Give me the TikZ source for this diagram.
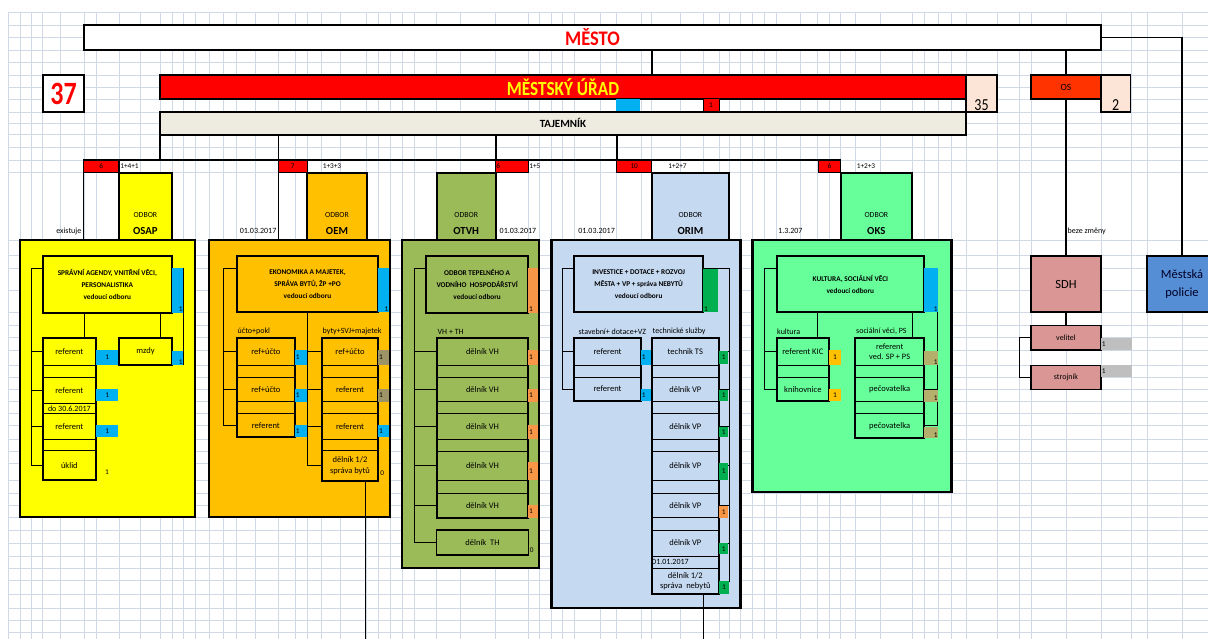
\documentclass[tikz,border=0pt]{standalone}
\usepackage{fontspec}
\setmainfont{Carlito}
\usetikzlibrary{calc}
\definecolor{yel}{HTML}{FFFF00}
\definecolor{orn}{HTML}{FFC000}
\definecolor{olv}{HTML}{9BBB59}
\definecolor{lbl}{HTML}{C5D9F1}
\definecolor{grn}{HTML}{66FF99}
\definecolor{bluebar}{HTML}{00B0F0}
\definecolor{orbar}{HTML}{F79646}
\definecolor{grbar}{HTML}{00B050}
\definecolor{olbarA}{HTML}{9C9467}
\definecolor{olbarB}{HTML}{B4B06C}
\definecolor{graybar}{HTML}{BFBFBF}
\definecolor{sdhc}{HTML}{DA9694}
\definecolor{polc}{HTML}{558ED5}
\definecolor{osc}{HTML}{FF3300}
\definecolor{peach}{HTML}{FCE4D6}
\definecolor{tajc}{HTML}{EEECE1}
\definecolor{gridc}{HTML}{D2D9E6}
\newcommand\numf{\fontsize{7.3}{8}\selectfont}
\newcommand\labf{\fontsize{8}{9}\selectfont}
\newcommand\cellf{\fontsize{8.5}{10.5}\selectfont}
\newcommand\headf{\bfseries\fontsize{7.3}{12}\selectfont}
\newcount\bxn
\newcommand\bx[7]{\pgfmathsetmacro\bxw{#5-#3}\pgfmathsetmacro\bxh{#6-#4}%
  \node[inner sep=0pt,outer sep=0pt,anchor=north west,minimum width=\bxw pt,minimum height=\bxh pt,#1] (#2) at (#3,#4) {#7};}
% bar: color, x1,y1,x2,y2, text, anchor
\newcommand\nbar[7]{\global\advance\bxn by 1
  \pgfmathsetmacro\bxw{#4-#2}\pgfmathsetmacro\bxh{#5-#3}%
  \node[fill=#1,inner sep=0pt,outer sep=0pt,anchor=north west,minimum width=\bxw pt,minimum height=\bxh pt] (b\the\bxn) at (#2,#3) {};
  \node[num,anchor=#7] (bt\the\bxn) at (b\the\bxn.#7) {#6};}
\tikzset{
 box/.style={draw,line width=1.8pt},
 pan/.style={draw,line width=2.2pt},
 head/.style={draw,line width=1.8pt,align=center,font=\headf},
 cell/.style={draw,line width=0.9pt,align=center,font=\cellf},
 colf/.style={draw,line width=1.8pt},
 conn/.style={line width=1pt},
 tconn/.style={line width=1.6pt},
 thinl/.style={line width=0.7pt},
 num/.style={font=\numf,inner sep=0.6pt},
 lab/.style={font=\labf,inner sep=0pt},
 redb/.style={draw,fill=red,line width=1.2pt,font=\numf},
 gridl/.style={draw=gridc,line width=0.6pt},
 odb/.style={font=\fontsize{7.8}{8}\selectfont,inner sep=0pt},
 odc/.style={font=\bfseries\fontsize{10.8}{11}\selectfont,inner sep=0pt},
}
\begin{document}
\begin{tikzpicture}[x=1pt,y=-1pt]
\clip (0,0) rectangle (1208,639);
\fill[white] (0,0) rectangle (1208,639);
% ---- spreadsheet grid
\foreach \y in {12,25,37.7,50,62.7,75,87.3,99,112,123.5,134.7,147.5,160,172.7,240,255.7,268.3,290.5,312.5,325.7,337.7,350,365,377.3,389.3,401.7,413.3,425.3,439,451,463,480.3,493,505,517.7,530,543,556,568.3,580.7,594,608.3,620.5,632.7}
  \draw[gridl] (8,\y) -- (1208,\y);
\foreach \x in {8,20,31.7,42.7,60,84,96,119,140,160,172,183.3,195,209,223.3,236.7,255,278.3,295,307.3,321.7,340,366,378.3,390,402,414.3,436.7,460,495.7,528.3,539,551.5,562.7,574,600,616.7,641,651.7,680,703.3,719,729,740.5,752.5,764.3,776.7,800,817.3,829,840.7,855,880,912.3,924.3,938,951.5,966,997,1019.3,1031,1066,1101,1131.7,1147,1182,1208}
  \draw[gridl] (\x,12) -- (\x,639);
\coordinate (bot) at (0,639);
% ---- top level
\bx{box,fill=white,text=red,font=\bfseries\fontsize{18.5}{20}\selectfont}{mesto}{84}{25}{1101}{50}{\scalebox{1}[1.12]{MĚSTO}}
\bx{box,fill=white,text=red,font=\bfseries\fontsize{26}{28}\selectfont}{n37}{43}{75}{84}{112}{\scalebox{1}[1.25]{37}}
\bx{box,fill=red,text=yel,font=\bfseries\fontsize{17.2}{18}\selectfont}{mu}{160}{75}{966}{99}{\scalebox{1}[1.17]{MĚSTSKÝ ÚŘAD}}
\bx{box,fill=peach}{n35}{966}{75}{997}{112}{}
\node[anchor=south,inner sep=1.5pt,font=\fontsize{14}{15}\selectfont] (t35) at (n35.south) {\scalebox{1}[1.2]{35}};
\bx{box,fill=osc,font=\fontsize{9.5}{10}\selectfont}{os}{1031}{75}{1101}{99}{OS}
\bx{box,fill=peach}{n2}{1101}{75}{1130.4}{112}{}
\node[anchor=south,inner sep=1.5pt,font=\fontsize{14}{15}\selectfont] (t2) at (n2.south) {\scalebox{1}[1.2]{2}};
\bx{fill=bluebar}{mkb}{616.3}{99.5}{640}{112}{}
\bx{redb,line width=1pt}{mkr}{703}{99}{719}{112}{1}
\bx{box,fill=tajc,font=\bfseries\fontsize{11}{12}\selectfont}{taj}{160}{112}{966}{134.7}{TAJEMNÍK}
% top connectors
\coordinate (k1) at (652,0);
\draw[tconn] (k1 |- mesto.south) -- (k1 |- mu.north);
\draw[tconn] (os.north |- mesto.south) -- (os.north);
% ---- department row
\bx{redb}{r1}{83.3}{160}{119}{172.7}{6}
\bx{redb}{r2}{278.3}{160}{307.3}{172.7}{7}
\bx{redb}{r3}{495.7}{160}{528.3}{172.7}{}
\node[num,anchor=west,inner sep=0.5pt] (r3t) at (r3.west) {6};
\bx{redb}{r4}{616.7}{160}{651.7}{172.7}{10}
\bx{redb}{r5}{818.3}{160}{840.7}{172.7}{6}
\draw[tconn] (taj.south west) -- (taj.south west |- r1.north);
\draw[tconn] (r2.north west |- taj.south) -- (r2.north west);
\draw[tconn] (r3.north west |- taj.south) -- (r3.north west);
\draw[tconn] (r4.north west |- taj.south) -- (r4.north west);
\draw[tconn] (r1.north west) -- (r5.north east);
\node[num,anchor=west] (l1) at (119.5,166.3) {1+4+1};
\node[num,anchor=west] (l2) at (322,166.3) {1+3+3};
\node[num,anchor=west] (l3) at (528.5,166.3) {1+5};
\node[num,anchor=west] (l4) at (667.5,166.3) {1+2+7};
\node[num,anchor=west] (l5) at (856,166.3) {1+2+3};
% ---- panels
\bx{pan,fill=yel}{p1}{20}{240}{195}{517}{}
\bx{pan,fill=orn}{p2}{209}{240}{390}{517}{}
\bx{pan,fill=olv}{p3}{402}{240}{539}{568}{}
\bx{pan,fill=lbl}{p4}{551.5}{240}{740.5}{608}{}
\bx{pan,fill=grn}{p5}{752.5}{240}{951.5}{492}{}
\bx{box,fill=yel}{d1}{119}{172.7}{171.7}{240}{}
\bx{box,fill=orn}{d2}{307.3}{172.7}{366.7}{240}{}
\bx{box,fill=olv}{d3}{436.7}{172.7}{495.7}{240}{}
\bx{box,fill=lbl}{d4}{651.7}{172.7}{729}{240}{}
\bx{box,fill=grn}{d5}{840.7}{172.7}{912}{240}{}
\draw[tconn] (r1.south west) -- (r1.south west |- p1.north);
\draw[tconn] (r2.south west) -- (r2.south west |- p2.north);
\foreach \d/\c in {d1/OSAP,d2/OEM,d3/OTVH,d4/ORIM,d5/OKS}{
  \node[odb] (\d o) at (\d.center |- 0,215) {ODBOR};
  \node[odc] (\d c) at (\d.center |- 0,230.5) {\c};}
\node[lab,anchor=east] (dt1) at (81.5,231) {existuje};
\node[lab,anchor=east] (dt2) at (276.5,231) {01.03.2017};
\node[lab,anchor=west] (dt3) at (499.5,231) {01.03.2017};
\node[lab,anchor=east] (dt4) at (615,231) {01.03.2017};
\node[lab,anchor=west] (dt5) at (778,231) {1.3.207};
\node[lab,anchor=west] (dt6) at (1067.5,231) {beze změny};
% ================= OSAP
\bx{head}{h1}{42.7}{255.7}{172}{312.7}{SPRÁVNÍ AGENDY, VNITŘNÍ VĚCI,\\PERSONALISTIKA\\vedoucí odboru}
\coordinate (q1) at (31.7,268.3);
\coordinate (q2) at (183.3,268.3);
\coordinate (q3) at (84.3,0);
\coordinate (q4) at (160,0);
\bx{cell}{c1a}{42.7}{337.7}{96}{365}{referent}
\bx{cell}{c1b}{42.7}{365}{96}{377.3}{}
\bx{cell}{c1c}{42.7}{377.3}{96}{403.3}{referent}
\bx{cell,font=\labf}{c1d}{42.7}{403.3}{96}{413.3}{do 30.6.2017}
\bx{cell}{c1e}{42.7}{413.3}{96}{439}{referent}
\bx{cell}{c1f}{42.7}{439}{96}{450.7}{}
\bx{cell}{c1g}{42.7}{450.7}{96}{480}{úklid}
\bx{colf}{k1a}{42.7}{337.7}{96}{480}{}
\bx{colf,font=\cellf}{mzdy}{119}{338.3}{172}{365}{mzdy}
\draw[conn] (h1.west |- q1) -- (q1) |- (c1g.west);
\foreach \c in {c1a,c1c,c1e} \draw[conn] (q1 |- \c.west) -- (\c.west);
\draw[conn] (h1.east |- q2) -- (q2) -- (q2 |- mzdy.south);
\draw[conn] (mzdy.east) -- (q2 |- mzdy.east);
\draw[conn] (q3 |- h1.south) -- (q3 |- k1a.north);
\draw[conn] (q4 |- h1.south) -- (q4 |- mzdy.north);
\nbar{bluebar}{172}{268.3}{183.3}{312.7}{1}{south east}
\nbar{bluebar}{172}{350.7}{183.3}{365}{1}{south east}
\nbar{bluebar}{96}{350}{118.3}{365}{1}{center}
\nbar{bluebar}{96}{389}{118.3}{400.7}{1}{center}
\nbar{bluebar}{96}{425}{118.3}{437.3}{1}{center}
\node[num] (u1) at (107,471.7) {1};
% ================= OEM
\bx{head}{h2}{236.7}{255.7}{378.3}{312.3}{EKONOMIKA A MAJETEK,\\SPRÁVA BYTŮ, ŽP +PO\\vedoucí odboru}
\node[lab,anchor=west] (la2) at (237.5,331.7) {účto+pokl};
\node[lab,anchor=west] (lb2) at (322.5,331.7) {byty+SVJ+majetek};
\bx{cell}{c2a}{236.7}{337.7}{295}{365}{ref+účto}
\bx{cell}{c2b}{236.7}{365}{295}{377.3}{}
\bx{cell}{c2c}{236.7}{377.3}{295}{401.7}{ref+účto}
\bx{cell}{c2d}{236.7}{401.7}{295}{413.3}{}
\bx{cell}{c2e}{236.7}{413.3}{295}{437.3}{referent}
\bx{colf}{k2a}{236.7}{337.7}{295}{437.3}{}
\bx{cell}{c2f}{321.7}{337.7}{378.3}{365}{ref+účto}
\bx{cell}{c2g}{321.7}{365}{378.3}{377.3}{}
\bx{cell}{c2h}{321.7}{377.3}{378.3}{401.7}{referent}
\bx{cell}{c2i}{321.7}{401.7}{378.3}{413.3}{}
\bx{cell}{c2j}{321.7}{413.3}{378.3}{439}{referent}
\bx{cell}{c2k}{321.7}{439}{378.3}{450.7}{}
\bx{cell}{c2l}{321.7}{450.7}{378.3}{480.7}{dělník 1/2\\správa bytů}
\bx{colf}{k2b}{321.7}{337.7}{378.3}{480.7}{}
\coordinate (q5) at (223.3,268.3);
\coordinate (q6) at (307.7,0);
\coordinate (q7) at (365.7,0);
\draw[conn] (h2.west |- q5) -- (q5) |- (c2e.west);
\foreach \c in {c2a,c2c} \draw[conn] (q5 |- \c.west) -- (\c.west);
\draw[conn] (q6 |- h2.south) |- (c2l.west);
\foreach \c in {c2f,c2h,c2j} \draw[conn] (q6 |- \c.west) -- (\c.west);
\draw[thinl] (q7 |- k2b.south) -- (q7 |- bot);
\nbar{bluebar}{378.3}{267.7}{389}{312.3}{1}{south east}
\nbar{bluebar}{295}{350}{306.7}{365}{1}{west}
\nbar{bluebar}{295}{389}{306.7}{401.7}{1}{west}
\nbar{bluebar}{295}{425}{306.7}{437.3}{1}{west}
\nbar{olbarA}{378.3}{350}{389}{365}{1}{west}
\nbar{olbarA}{378.3}{389}{389}{401.7}{1}{west}
\nbar{bluebar}{378.3}{425}{389}{437.3}{1}{west}
\node[num,anchor=west] (z2) at (379.5,473.3) {0};
% ================= OTVH
\bx{head}{h3}{426}{255.7}{528.3}{312.7}{ODBOR TEPELNÉHO A\\VODNÍHO~ HOSPODÁŘSTVÍ\\vedoucí odboru}
\node[lab,anchor=west] (la3) at (437.5,331.7) {VH + TH};
\bx{cell}{c3a}{436.7}{337.7}{528.3}{365.3}{dělník VH}
\bx{cell}{c3b}{436.7}{365.3}{528.3}{377.7}{}
\bx{cell}{c3c}{436.7}{377.7}{528.3}{401.7}{dělník VH}
\bx{cell}{c3d}{436.7}{401.7}{528.3}{413.3}{}
\bx{cell}{c3e}{436.7}{413.3}{528.3}{439}{dělník VH}
\bx{cell}{c3f}{436.7}{439}{528.3}{451}{}
\bx{cell}{c3g}{436.7}{451}{528.3}{480.3}{dělník VH}
\bx{cell}{c3h}{436.7}{480.3}{528.3}{493.3}{}
\bx{cell}{c3i}{436.7}{493.3}{528.3}{517.7}{dělník VH}
\bx{colf}{k3a}{436.7}{337.7}{528.3}{517.7}{}
\bx{cell,line width=1.3pt}{c3j}{436.7}{530}{528.3}{555}{dělník~ TH}
\coordinate (q8) at (414.3,268.3);
\draw[conn] (h3.west |- q8) -- (q8) |- (c3j.west);
\foreach \c in {c3a,c3c,c3e,c3g,c3i} \draw[conn] (q8 |- \c.west) -- (\c.west);
\nbar{orbar}{528.3}{268.3}{538.3}{312.7}{1}{south west}
\nbar{orbar}{528.3}{350}{538.3}{365}{1}{west}
\nbar{orbar}{528.3}{389.3}{538.3}{401.7}{1}{west}
\nbar{orbar}{528.3}{425.3}{538.3}{439}{1}{west}
\nbar{orbar}{528.3}{462.3}{538.3}{480}{1}{west}
\nbar{orbar}{528.3}{505}{538.3}{517.7}{1}{west}
\node[num,anchor=west] (z3) at (529,550) {0};
% ================= ORIM
\bx{head}{h4}{574}{255.7}{703.3}{312.3}{INVESTICE + DOTACE + ROZVOJ\\MĚSTA + VP + správa NEBYTŮ\\vedoucí odboru}
\node[lab,anchor=west] (la4) at (578.5,331.7) {stavební+ dotace+VZ};
\node[lab,anchor=west] (lb4) at (652.5,331.7) {technické služby};
\bx{cell}{c4a}{574}{337.7}{641}{365.3}{referent}
\bx{cell}{c4b}{574}{365.3}{641}{377.3}{}
\bx{cell}{c4c}{574}{377.3}{641}{400.7}{referent}
\bx{colf}{k4a}{574}{337.7}{641}{400.7}{}
\bx{cell}{c4d}{651.7}{337.7}{719}{365.3}{technik TS}
\bx{cell}{c4e}{651.7}{365.3}{719}{377.3}{}
\bx{cell}{c4f}{651.7}{377.3}{719}{401.7}{dělník VP}
\bx{cell}{c4g}{651.7}{401.7}{719}{413.3}{}
\bx{cell}{c4h}{651.7}{413.3}{719}{439}{dělník VP}
\bx{cell}{c4i}{651.7}{439}{719}{451}{}
\bx{cell}{c4j}{651.7}{451}{719}{480.3}{dělník VP}
\bx{cell}{c4k}{651.7}{480.3}{719}{493}{}
\bx{cell}{c4l}{651.7}{493}{719}{517.7}{dělník VP}
\bx{cell}{c4m}{651.7}{517.7}{719}{530}{}
\bx{cell}{c4n}{651.7}{530}{719}{556}{dělník VP}
\bx{cell}{c4o}{651.7}{556}{719}{568.3}{}
\node[lab,anchor=west,inner sep=0.3pt] (t4o) at (c4o.west) {01.01.2017};
\bx{cell}{c4p}{651.7}{568.3}{719}{594}{dělník 1/2\\správa~ nebytů}
\bx{colf}{k4b}{651.7}{337.7}{719}{594}{}
\coordinate (q9) at (562.7,268.3);
\coordinate (q10) at (729,268.3);
\coordinate (q11) at (703.3,0);
\draw[conn] (h4.west |- q9) -- (q9) |- (c4c.west);
\draw[conn] (q9 |- c4a.west) -- (c4a.west);
\draw[conn] (h4.east |- q10) -- (q10) |- (c4p.east);
\foreach \c in {c4d,c4f,c4h,c4j,c4l,c4n} \draw[conn] (q10 |- \c.east) -- (\c.east);
\draw[thinl] (q11 |- k4b.south) -- (q11 |- bot);
\nbar{grbar}{703.3}{269}{718.3}{312.3}{1}{south west}
\nbar{bluebar}{641}{350}{651}{365}{1}{west}
\nbar{bluebar}{641}{389}{651}{400.7}{1}{west}
\nbar{grbar}{719}{350.7}{728.3}{364.3}{1}{center}
\nbar{grbar}{719}{390}{728.3}{400.7}{1}{center}
\nbar{grbar}{719}{426.7}{728.3}{437.3}{1}{center}
\nbar{grbar}{719}{462.7}{728.3}{480}{1}{center}
\nbar{orbar}{719}{506}{728.3}{517.7}{1}{center}
\nbar{grbar}{719}{543.3}{728.3}{554.3}{1}{center}
\nbar{grbar}{719}{580.7}{729}{594}{1}{center}
% ================= OKS
\bx{head}{h5}{776.7}{255.7}{924}{312.3}{KULTURA, SOCIÁLNÍ VĚCI\\vedoucí odboru}
\node[lab,anchor=west] (la5) at (777,331.7) {kultura};
\node[lab,anchor=west] (lb5) at (856,331.7) {sociální věci, PS};
\bx{cell}{c5a}{776.7}{337.7}{829}{365.3}{referent KIC}
\bx{cell}{c5b}{776.7}{365.3}{829}{377.3}{}
\bx{cell}{c5c}{776.7}{377.3}{829}{401}{knihovnice}
\bx{colf}{k5a}{776.7}{337.7}{829}{401}{}
\bx{cell,font=\fontsize{8.3}{9.5}\selectfont}{c5d}{855}{337.7}{924.3}{365.3}{referent\\ved. SP + PS}
\bx{cell}{c5e}{855}{365.3}{924.3}{377.3}{}
\bx{cell}{c5f}{855}{377.3}{924.3}{401.7}{pečovatelka}
\bx{cell}{c5g}{855}{401.7}{924.3}{413.3}{}
\bx{cell}{c5h}{855}{413.3}{924.3}{438.3}{pečovatelka}
\bx{colf}{k5b}{855}{337.7}{924.3}{438.3}{}
\coordinate (q12) at (764.3,268.3);
\coordinate (q13) at (937.7,268.3);
\coordinate (q14) at (817.3,0);
\coordinate (q15) at (912.3,0);
\draw[conn] (h5.west |- q12) -- (q12) |- (c5c.west);
\draw[conn] (q12 |- c5a.west) -- (c5a.west);
\draw[conn] (h5.east |- q13) -- (q13) |- (c5h.east);
\foreach \c in {c5d,c5f} \draw[conn] (q13 |- \c.east) -- (\c.east);
\draw[conn] (q14 |- h5.south) -- (q14 |- k5a.north);
\draw[conn] (q15 |- h5.south) -- (q15 |- k5b.north);
\nbar{bluebar}{924}{268.3}{938.3}{312.3}{1}{south east}
\nbar{orn}{829}{350}{840.7}{365}{1}{center}
\nbar{orn}{829}{389.3}{840.7}{401}{1}{center}
\nbar{olbarB}{924.3}{350.7}{938.3}{365}{1}{south east}
\nbar{olbarB}{924.3}{390}{938.3}{401.7}{1}{south east}
\nbar{olbarB}{924.3}{426.7}{938.3}{438.3}{1}{south east}
% ================= SDH / police
\bx{box,fill=sdhc,font=\fontsize{12.5}{14}\selectfont}{sdh}{1031}{255.7}{1101}{312.3}{SDH}
\bx{box,fill=polc,align=center,text={black!85!blue},font=\fontsize{12.5}{18}\selectfont}{pol}{1147}{255.7}{1217}{312.3}{Městská\\policie}
\bx{draw,line width=1.2pt,fill=sdhc,font=\fontsize{8}{9}\selectfont}{vel}{1031}{325.7}{1101}{350}{velitel}
\bx{draw,line width=1.2pt,fill=sdhc,font=\fontsize{8}{9}\selectfont}{stroj}{1031}{365.3}{1101}{389.3}{strojník}
\draw[tconn] (os.south) -- (sdh.north);
\draw[tconn] (mesto.east) -| (pol.north);
\draw[tconn] (sdh.south) -- (vel.north);
\draw[conn] (vel.west) -- ++(-11.7,0) |- (stroj.west);
\nbar{graybar}{1101}{338}{1131.7}{350}{1}{west}
\nbar{graybar}{1101}{365.3}{1131.7}{377.3}{1}{west}
\end{tikzpicture}
\end{document}
